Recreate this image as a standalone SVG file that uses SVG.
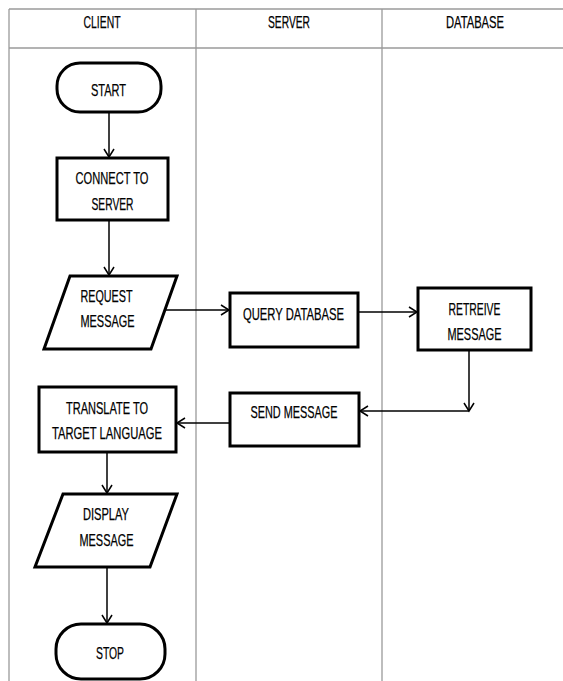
<svg xmlns="http://www.w3.org/2000/svg" width="563" height="681" viewBox="0 0 563 681">
<style>
.grid{stroke:#9a9a9a;stroke-width:1.3;fill:none}
.node{fill:#fff;stroke:#000;stroke-width:3}
.conn{stroke:#000;stroke-width:1.5;fill:none}
text{font-family:"Liberation Sans Narrow","Liberation Sans",Arial,sans-serif;font-size:17px;fill:#000;stroke:#000;stroke-width:0.25;text-anchor:middle}
</style>
<defs>
<marker id="arr" markerWidth="12" markerHeight="12" refX="10" refY="6" orient="auto" markerUnits="userSpaceOnUse">
<path d="M2,1 L10,6 L2,11" fill="none" stroke="#000" stroke-width="1.5"/>
</marker>
</defs>
<rect width="563" height="681" fill="#fff"/>
<g id="lanes">
<line class="grid" x1="9" y1="9" x2="563" y2="9"/>
<line class="grid" x1="9" y1="48" x2="563" y2="48"/>
<line class="grid" x1="9" y1="9" x2="9" y2="681"/>
<line class="grid" x1="196" y1="9" x2="196" y2="681"/>
<line class="grid" x1="382" y1="9" x2="382" y2="681"/>
<text x="102" y="27.5" textLength="37" lengthAdjust="spacingAndGlyphs">CLIENT</text>
<text x="289" y="27.5" textLength="42" lengthAdjust="spacingAndGlyphs">SERVER</text>
<text x="475" y="27.5" textLength="58" lengthAdjust="spacingAndGlyphs">DATABASE</text>
</g>
<g id="connectors">
<line class="conn" x1="109" y1="112" x2="109" y2="157" marker-end="url(#arr)"/>
<line class="conn" x1="109" y1="221" x2="109" y2="275" marker-end="url(#arr)"/>
<line class="conn" x1="165" y1="310" x2="229" y2="310" marker-end="url(#arr)"/>
<line class="conn" x1="359" y1="312" x2="417" y2="312" marker-end="url(#arr)"/>
<line class="conn" x1="469" y1="351" x2="469" y2="411" marker-end="url(#arr)"/>
<line class="conn" x1="469" y1="411" x2="360" y2="411" marker-end="url(#arr)"/>
<line class="conn" x1="229" y1="423" x2="177" y2="423" marker-end="url(#arr)"/>
<line class="conn" x1="107" y1="453" x2="107" y2="493" marker-end="url(#arr)"/>
<line class="conn" x1="107" y1="568" x2="107" y2="623" marker-end="url(#arr)"/>
</g>
<g id="start">
<rect class="node" x="57" y="63" width="104" height="49" rx="23" ry="23"/>
<text x="108.5" y="96" textLength="35" lengthAdjust="spacingAndGlyphs">START</text>
</g>
<g id="connect">
<rect class="node" x="57" y="158" width="111" height="62"/>
<text x="112" y="183.5" textLength="73" lengthAdjust="spacingAndGlyphs">CONNECT TO</text>
<text x="112.5" y="209.5" textLength="42" lengthAdjust="spacingAndGlyphs">SERVER</text>
</g>
<g id="request">
<polygon class="node" points="70,276 177,276 151,349 44,349"/>
<text x="106.5" y="302" textLength="52" lengthAdjust="spacingAndGlyphs">REQUEST</text>
<text x="107.5" y="327" textLength="54" lengthAdjust="spacingAndGlyphs">MESSAGE</text>
</g>
<g id="query">
<rect class="node" x="230" y="293" width="128" height="54"/>
<text x="293.5" y="319.5" textLength="101" lengthAdjust="spacingAndGlyphs">QUERY DATABASE</text>
</g>
<g id="retrieve">
<rect class="node" x="418" y="288" width="113" height="62"/>
<text x="474.5" y="314.5" textLength="52" lengthAdjust="spacingAndGlyphs">RETREIVE</text>
<text x="474.5" y="339.5" textLength="54" lengthAdjust="spacingAndGlyphs">MESSAGE</text>
</g>
<g id="send">
<rect class="node" x="230" y="393" width="129" height="53"/>
<text x="294" y="417.5" textLength="87" lengthAdjust="spacingAndGlyphs">SEND MESSAGE</text>
</g>
<g id="translate">
<rect class="node" x="39" y="387" width="137" height="65"/>
<text x="107" y="413.5" textLength="82" lengthAdjust="spacingAndGlyphs">TRANSLATE TO</text>
<text x="107" y="438.5" textLength="110" lengthAdjust="spacingAndGlyphs">TARGET LANGUAGE</text>
</g>
<g id="display">
<polygon class="node" points="63,494 177,494 150,567 35,567"/>
<text x="106" y="519.5" textLength="46" lengthAdjust="spacingAndGlyphs">DISPLAY</text>
<text x="106.5" y="545.5" textLength="54" lengthAdjust="spacingAndGlyphs">MESSAGE</text>
</g>
<g id="stop">
<rect class="node" x="56" y="624" width="109" height="55" rx="25" ry="25"/>
<text x="110" y="658.5" textLength="28" lengthAdjust="spacingAndGlyphs">STOP</text>
</g>
</svg>
